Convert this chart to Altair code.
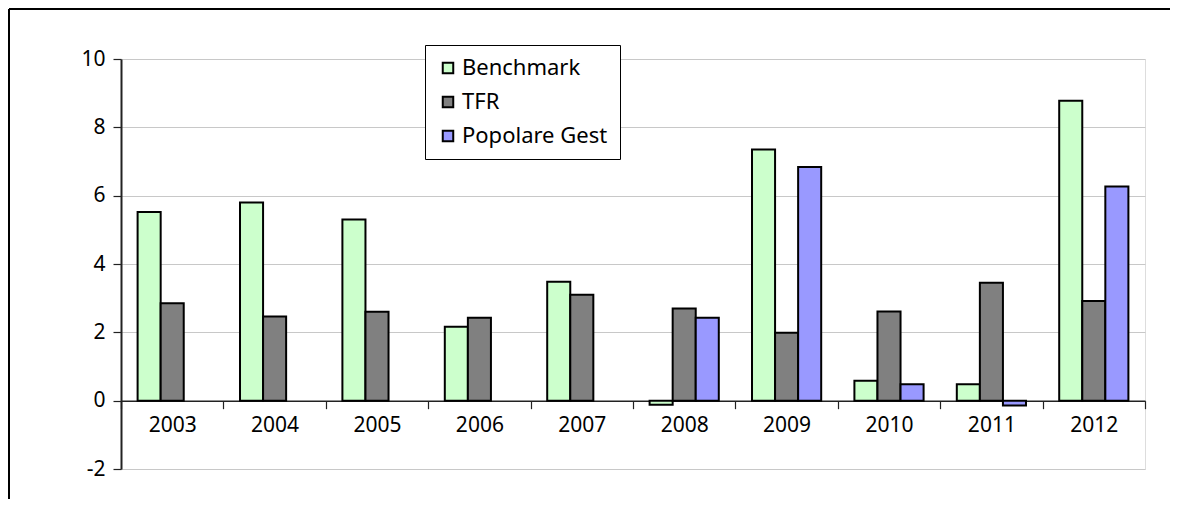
import altair as alt
import pandas as pd

years = ["2003", "2004", "2005", "2006", "2007", "2008", "2009", "2010", "2011", "2012"]
benchmark = [5.52, 5.80, 5.30, 2.16, 3.48, -0.12, 7.35, 0.58, 0.48, 8.78]
tfr = [2.85, 2.46, 2.60, 2.43, 3.10, 2.70, 1.99, 2.61, 3.45, 2.92]
popolare = [None, None, None, None, None, 2.43, 6.84, 0.48, -0.14, 6.27]
series = ["Benchmark", "TFR", "Popolare Gest"]
colors = ["#CCFFCC", "#808080", "#9999FF"]
y_ticks = [-2, 0, 2, 4, 6, 8, 10]

rows = []
for i, yr in enumerate(years):
    for s, vals in zip(series, [benchmark, tfr, popolare]):
        if vals[i] is not None:
            rows.append({"anno": yr, "serie": s, "valore": vals[i]})
df = pd.DataFrame(rows)

W, H = 1024, 410
PAD_L, PAD_T, PAD_R, PAD_B = 113, 51, 25, 30
FONT = "Noto Sans"

bars = alt.Chart(df).mark_bar(stroke="black", strokeWidth=2, opacity=1).encode(
    x=alt.X(
        "anno:N", sort=years,
        scale=alt.Scale(paddingInner=0, paddingOuter=0),
        axis=alt.Axis(
            title=None, orient="bottom", offset=-H * 2 / 12, labelAngle=0,
            tickBand="extent", tickSize=8, tickColor="#222222", tickWidth=1.2,
            domainColor="#222222", domainWidth=1.5, labelFont=FONT, labelFontSize=21,
            labelColor="black", labelPadding=6, grid=False,
        ),
    ),
    xOffset=alt.XOffset("serie:N", sort=series,
                        scale=alt.Scale(domain=series, paddingInner=0, paddingOuter=0.72)),
    y=alt.Y(
        "valore:Q",
        scale=alt.Scale(domain=[-2, 10], nice=False, zero=False),
        axis=alt.Axis(
            title=None, values=y_ticks, labelExpr="datum.value + ''",
            tickSize=8, tickColor="#222222", tickWidth=1.2,
            domainColor="#222222", domainWidth=2, labelFont=FONT, labelFontSize=21,
            labelColor="black", labelPadding=8, grid=True, gridColor="#C8C8C8", gridWidth=1,
        ),
    ),
    color=alt.Color(
        "serie:N", sort=series,
        scale=alt.Scale(domain=series, range=colors),
        legend=alt.Legend(
            title=None, orient="none", legendX=304, legendY=-14,
            symbolType="square", symbolSize=110, symbolStrokeColor="black",
            symbolStrokeWidth=2, symbolOpacity=1, labelFont=FONT, labelFontSize=22,
            labelColor="black", labelOffset=3, rowPadding=12, padding=12,
            strokeColor="black", fillColor="white",
        ),
    ),
)

frame_df = pd.DataFrame({"k": [0]})
frame_top = alt.Chart(frame_df).mark_rule(color="black", strokeWidth=2).encode(
    x=alt.value(-PAD_L + 1), x2=alt.value(W + PAD_R), y=alt.value(-PAD_T + 1)
)
frame_left = alt.Chart(frame_df).mark_rule(color="black", strokeWidth=2).encode(
    x=alt.value(-PAD_L + 1), y=alt.value(-PAD_T + 1), y2=alt.value(H + PAD_B)
)

chart = alt.layer(bars, frame_top, frame_left).properties(
    width=W, height=H,
    autosize=alt.AutoSizeParams(type="none"),
    padding={"left": PAD_L, "top": PAD_T, "right": PAD_R, "bottom": PAD_B},
).configure_view(stroke="#808080", strokeWidth=2).configure(background="white")

chart.save("out.html", embed_options={"renderer": "svg", "actions": False})
